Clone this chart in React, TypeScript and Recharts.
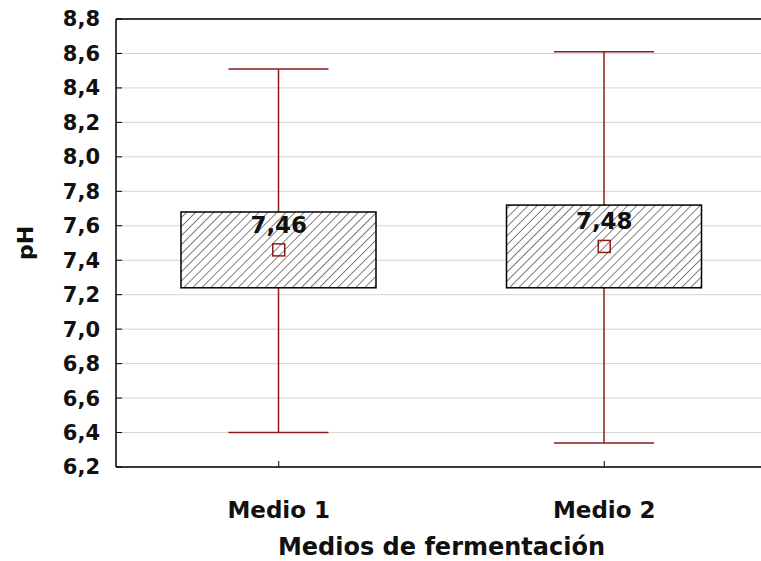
import React from 'react';
import { ComposedChart, Bar, Scatter, XAxis, YAxis, CartesianGrid, ReferenceLine, Label } from 'recharts';

// medios de fermentación
const categories = ['Medio 1', 'Medio 2'];
const minValues = [6.4, 6.34];
const maxValues = [8.51, 8.61];
const q1Values = [7.24, 7.24];
const q3Values = [7.68, 7.72];
const meanValues = [7.46, 7.48];
const yTicks = [6.2, 6.4, 6.6, 6.8, 7.0, 7.2, 7.4, 7.6, 7.8, 8.0, 8.2, 8.4, 8.6, 8.8];

const data = categories.map((name, i) => ({
  name,
  whisker: [minValues[i], maxValues[i]],
  box: [q1Values[i], q3Values[i]],
  mean: meanValues[i],
}));

const RED = '#8b1c1c';
const INK = '#111';
const FONT = 'DejaVu Sans, sans-serif';
const fmt = (v: number, d: number) => v.toFixed(d).replace('.', ',');

const Whisker = (props: any) => {
  const { x, y, width, height } = props;
  const top = Math.min(y, y + height);
  const bottom = Math.max(y, y + height);
  const cx = x + width / 2;
  const cap = 50;
  return (
    <g stroke={RED} strokeWidth={1.5}>
      <line x1={cx} y1={top} x2={cx} y2={bottom} />
      <line x1={cx - cap} y1={top} x2={cx + cap} y2={top} />
      <line x1={cx - cap} y1={bottom} x2={cx + cap} y2={bottom} />
    </g>
  );
};

const Box = (props: any) => {
  const { x, y, width, height } = props;
  const top = Math.min(y, y + height);
  const h = Math.abs(height);
  return (
    <g>
      <defs>
        <pattern id="hatch" width={6.4} height={6.4} patternUnits="userSpaceOnUse" patternTransform="rotate(45)">
          <line x1={0} y1={0} x2={0} y2={6.4} stroke="#000" strokeWidth={1} />
        </pattern>
      </defs>
      <rect x={x} y={top} width={width} height={h} fill="#fff" />
      <rect x={x} y={top} width={width} height={h} fill="url(#hatch)" stroke="#000" strokeWidth={1.5} />
    </g>
  );
};

const MeanMark = (props: any) => {
  const { cx, cy, payload } = props;
  return (
    <g>
      <rect x={cx - 6} y={cy - 6} width={12} height={12} fill="none" stroke={RED} strokeWidth={1.5} />
      <text x={cx} y={cy - 17} textAnchor="middle" fontFamily={FONT} fontWeight="bold" fontSize={23} fill={INK}>
        {fmt(payload.mean, 2)}
      </text>
    </g>
  );
};

const tickStyle = { fontFamily: FONT, fontWeight: 'bold', fill: INK };

export default function App() {
  return (
    <div style={{ position: 'absolute', left: 0, top: 0, width: 761, height: 561, overflow: 'hidden', background: '#fff' }}>
      <ComposedChart width={775} height={561} data={data} margin={{ top: 19, right: 8, bottom: 0, left: 0 }}>
        <CartesianGrid vertical={false} stroke="#d4d4d4" />
        <XAxis
          dataKey="name"
          height={94}
          axisLine={{ stroke: '#000', strokeWidth: 1.5 }}
          tickLine={{ stroke: '#000' }}
          tickSize={-6}
          tickMargin={41}
          tick={{ ...tickStyle, fontSize: 23 }}
        >
          <Label
            value="Medios de fermentación"
            position="insideBottom"
            offset={6}
            style={{ fontFamily: FONT, fontWeight: 'bold', fontSize: 24, fill: INK }}
          />
        </XAxis>
        <XAxis xAxisId="w" dataKey="name" hide />
        <YAxis
          width={116}
          domain={[6.2, 8.8]}
          ticks={yTicks}
          interval={0}
          tickFormatter={(v: number) => fmt(v, 1)}
          axisLine={{ stroke: '#000', strokeWidth: 1.5 }}
          tickLine={{ stroke: '#000' }}
          tickSize={-6}
          tickMargin={22}
          tick={{ ...tickStyle, fontSize: 21 }}
        >
          <Label
            content={(p: any) => {
              const vb = p.viewBox || { y: 19, height: 448 };
              const cy = vb.y + vb.height / 2;
              return (
                <text
                  x={25}
                  y={cy}
                  transform={`rotate(-90, 25, ${cy})`}
                  textAnchor="middle"
                  dominantBaseline="central"
                  fontFamily={FONT}
                  fontWeight="bold"
                  fontSize={22}
                  fill={INK}
                >
                  pH
                </text>
              );
            }}
          />
        </YAxis>
        <ReferenceLine y={8.8} stroke="#000" strokeWidth={1.5} />
        <Bar xAxisId="w" dataKey="whisker" barSize={195} shape={<Whisker />} isAnimationActive={false} />
        <Bar dataKey="box" barSize={195} shape={<Box />} isAnimationActive={false} />
        <Scatter dataKey="mean" shape={<MeanMark />} isAnimationActive={false} />
      </ComposedChart>
    </div>
  );
}
